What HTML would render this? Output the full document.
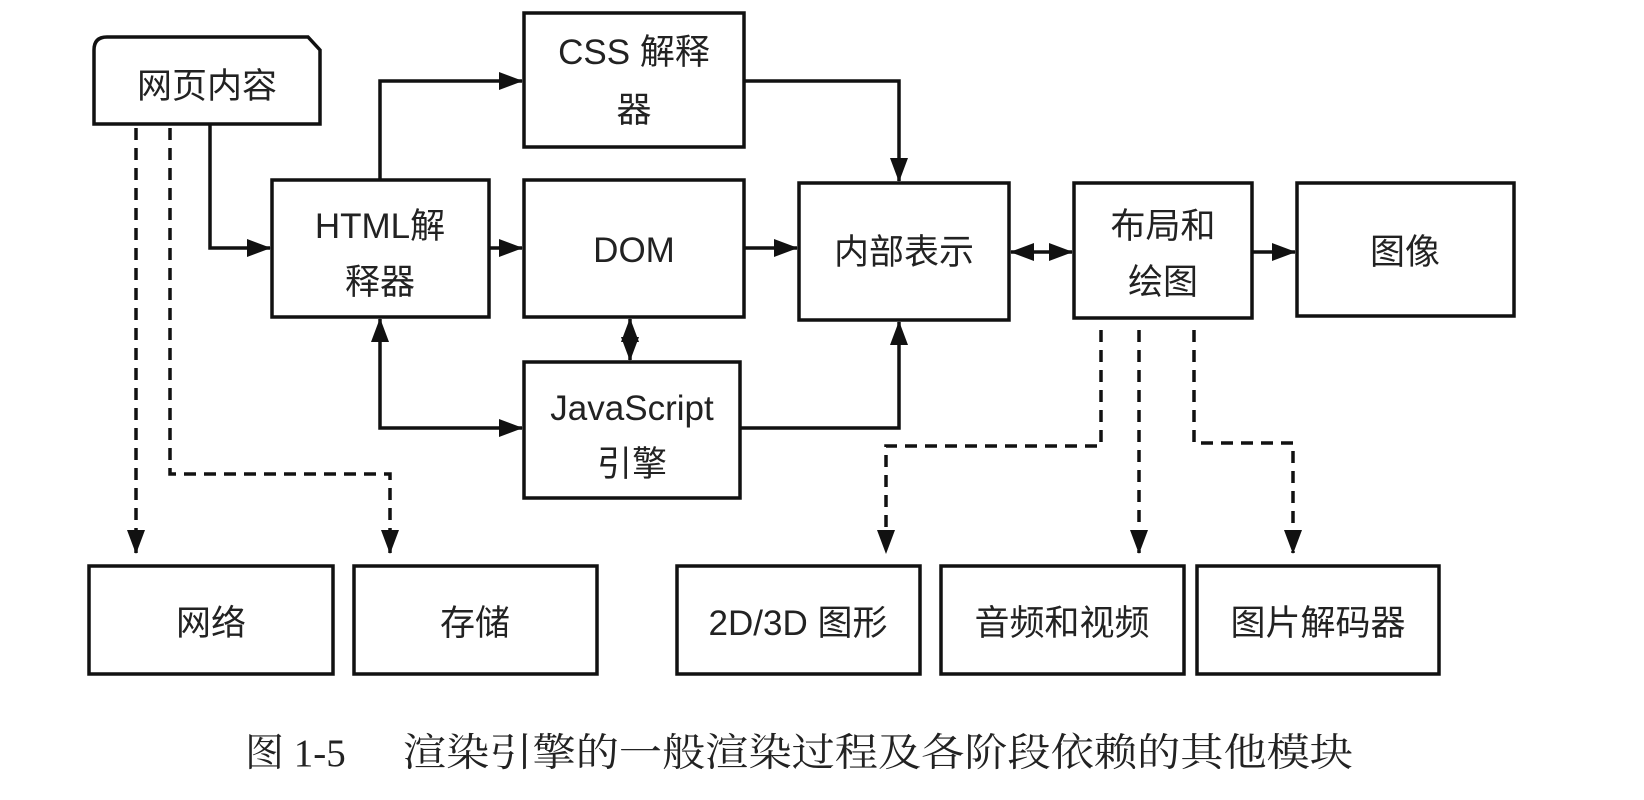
<!DOCTYPE html>
<html><head><meta charset="utf-8"><style>
html,body{margin:0;padding:0;background:#fff;}
svg{display:block;}
text{font-family:"Liberation Sans","Noto Sans CJK SC",sans-serif;fill:#222;}
.s{font-family:"Liberation Serif","Noto Serif CJK SC",serif;}
</style></head><body>
<svg width="1644" height="800" viewBox="0 0 1644 800" xmlns="http://www.w3.org/2000/svg">
<defs>
<marker id="b" markerWidth="24" markerHeight="24" refX="23" refY="12" orient="auto" markerUnits="userSpaceOnUse" viewBox="0 0 24 24">
<path d="M0,3 L24,12 L0,21 z" fill="#111"/></marker>
<marker id="bs" markerWidth="24" markerHeight="24" refX="1" refY="12" orient="auto" markerUnits="userSpaceOnUse" viewBox="0 0 24 24">
<path d="M24,3 L0,12 L24,21 z" fill="#111"/></marker>
</defs>
<g fill="none" stroke="#111" stroke-width="3.5">
<path d="M94,124 L94,50 Q94,37 107,37 L308,37 L320,50 L320,124 Z"/>
<rect x="524" y="13" width="220" height="134"/>
<rect x="272" y="180" width="217" height="137"/>
<rect x="524" y="180" width="220" height="137"/>
<rect x="799" y="183" width="210" height="137"/>
<rect x="1074" y="183" width="178" height="135"/>
<rect x="1297" y="183" width="217" height="133"/>
<rect x="524" y="362" width="216" height="136"/>
<rect x="89" y="566" width="244" height="108"/>
<rect x="354" y="566" width="243" height="108"/>
<rect x="677" y="566" width="243" height="108"/>
<rect x="941" y="566" width="243" height="108"/>
<rect x="1197" y="566" width="242" height="108"/>
</g>
<g fill="none" stroke="#111" stroke-width="3.5">
<path d="M210,124 L210,248 L270,248" marker-end="url(#b)"/>
<path d="M380,180 L380,81 L522,81" marker-end="url(#b)"/>
<path d="M489,248 L522,248" marker-end="url(#b)"/>
<path d="M744,248 L797,248" marker-end="url(#b)"/>
<path d="M744,81 L899,81 L899,181" marker-end="url(#b)"/>
<path d="M630,319 L630,360" marker-start="url(#bs)" marker-end="url(#b)"/>
<path d="M380,319 L380,428 L522,428" marker-start="url(#bs)" marker-end="url(#b)"/>
<path d="M740,428 L899,428 L899,322" marker-end="url(#b)"/>
<path d="M1011,252 L1072,252" marker-start="url(#bs)" marker-end="url(#b)"/>
<path d="M1252,252 L1295,252" marker-end="url(#b)"/>
</g>
<g fill="none" stroke="#111" stroke-width="3.5" stroke-dasharray="12,8">
<path d="M136,128 L136,553" marker-end="url(#b)"/>
<path d="M170,128 L170,474 L390,474 L390,553" marker-end="url(#b)"/>
<path d="M1101,330 L1101,446 L886,446 L886,553" marker-end="url(#b)"/>
<path d="M1139,330 L1139,553" marker-end="url(#b)"/>
<path d="M1194,330 L1194,443 L1293,443 L1293,553" marker-end="url(#b)"/>
</g>
<g font-size="35" text-anchor="middle">
<text x="207" y="98">网页内容</text>
<text x="634" y="64">CSS  解释</text>
<text x="634" y="122">器</text>
<text x="380" y="238">HTML解</text>
<text x="380" y="294">释器</text>
<text x="634" y="262">DOM</text>
<text x="904" y="264">内部表示</text>
<text x="1163" y="238">布局和</text>
<text x="1163" y="294">绘图</text>
<text x="1405" y="264">图像</text>
<text x="632" y="420">JavaScript</text>
<text x="632" y="476">引擎</text>
<text x="211" y="635">网络</text>
<text x="475" y="635">存储</text>
<text x="798" y="635">2D/3D 图形</text>
<text x="1062" y="635">音频和视频</text>
<text x="1318" y="635">图片解码器</text>
</g>
<text class="s" x="245" y="766" font-size="39">图 1-5</text>
<text class="s" x="403" y="766" font-size="39" textLength="950" lengthAdjust="spacingAndGlyphs">渲染引擎的一般渲染过程及各阶段依赖的其他模块</text>
</svg>
</body></html>
